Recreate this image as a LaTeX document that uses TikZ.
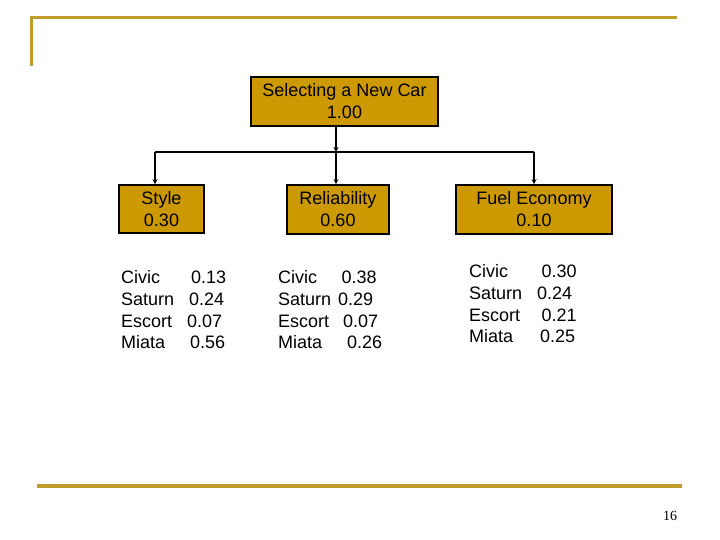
\documentclass[tikz,border=0pt]{standalone}
\usepackage{fontspec}
\setmainfont{Liberation Sans}
\newfontfamily\pagenumfont{Liberation Serif}
\usetikzlibrary{arrows.meta}

\definecolor{boxgold}{RGB}{204,153,0}
\definecolor{rulegold}{RGB}{192,156,44}

\begin{document}
\begin{tikzpicture}[x=1pt,y=-1pt]
	\tikzset{carbox/.style={draw, rectangle, fill=boxgold, line width=1.6pt, align=center, inner sep=0pt, minimum height=49pt, font=\fontsize{18}{22}\selectfont},
		tabtext/.style={anchor=base west, inner sep=0pt, font=\fontsize{18}{22}\selectfont},
		link/.style={line width=1.4pt, -{Stealth[length=5pt,width=5pt]}},
		slide rule/.style={rulegold, line width=3pt}}
	\useasboundingbox (0,0) rectangle (720,540);

	% slide frame
	\draw[slide rule] (31,66) -- (31,18) -- (677,18);
	\draw[slide rule, line width=3.5pt] (37,486) -- (682,486);
	\node[font=\pagenumfont\fontsize{14}{14}\selectfont] (pagenum) at (670,516) {16};

	% boxes
	\node[carbox, minimum width=187pt] (root) at (344.5,101.5) {Selecting a New Car\\1.00};
	\node[carbox, minimum width=85pt, minimum height=48pt] (style) at (161.5,209) {Style\\0.30};
	\node[carbox, minimum width=102pt] (rel) at (338,209.5) {Reliability\\0.60};
	\node[carbox, minimum width=156pt] (fuel) at (534,209.5) {Fuel Economy\\0.10};

	% connectors
	\coordinate (hub) at (336,152);
	\coordinate (lefthub) at (155,152);
	\coordinate (righthub) at (534,152);
	\draw[link] (root.south -| hub) -- (hub);
	\draw[line width=1.4pt] (lefthub) -- (righthub);
	\draw[link] (lefthub) -- (lefthub |- style.north);
	\draw[link] (hub) -- (hub |- rel.north);
	\draw[link] (righthub) -- (righthub |- fuel.north);

	% scores
	\foreach \nm/\vx/\vl [count=\i] in {Civic/191/0.13, Saturn/189/0.24, Escort/187/0.07, Miata/190/0.56} {
		\node[tabtext] (sn\i) at (121,{262.3+21.67*\i}) {\nm};
		\node[tabtext] (sv\i) at (\vx,{262.3+21.67*\i}) {\vl};
	}
	\foreach \nm/\vx/\vl [count=\i] in {Civic/341.5/0.38, Saturn/338/0.29, Escort/343/0.07, Miata/347/0.26} {
		\node[tabtext] (rn\i) at (278,{262.3+21.67*\i}) {\nm};
		\node[tabtext] (rv\i) at (\vx,{262.3+21.67*\i}) {\vl};
	}
	\foreach \nm/\vx/\vl [count=\i] in {Civic/541.5/0.30, Saturn/537/0.24, Escort/541.5/0.21, Miata/540/0.25} {
		\node[tabtext] (fn\i) at (469,{256.3+21.67*\i}) {\nm};
		\node[tabtext] (fv\i) at (\vx,{256.3+21.67*\i}) {\vl};
	}
\end{tikzpicture}
\end{document}
